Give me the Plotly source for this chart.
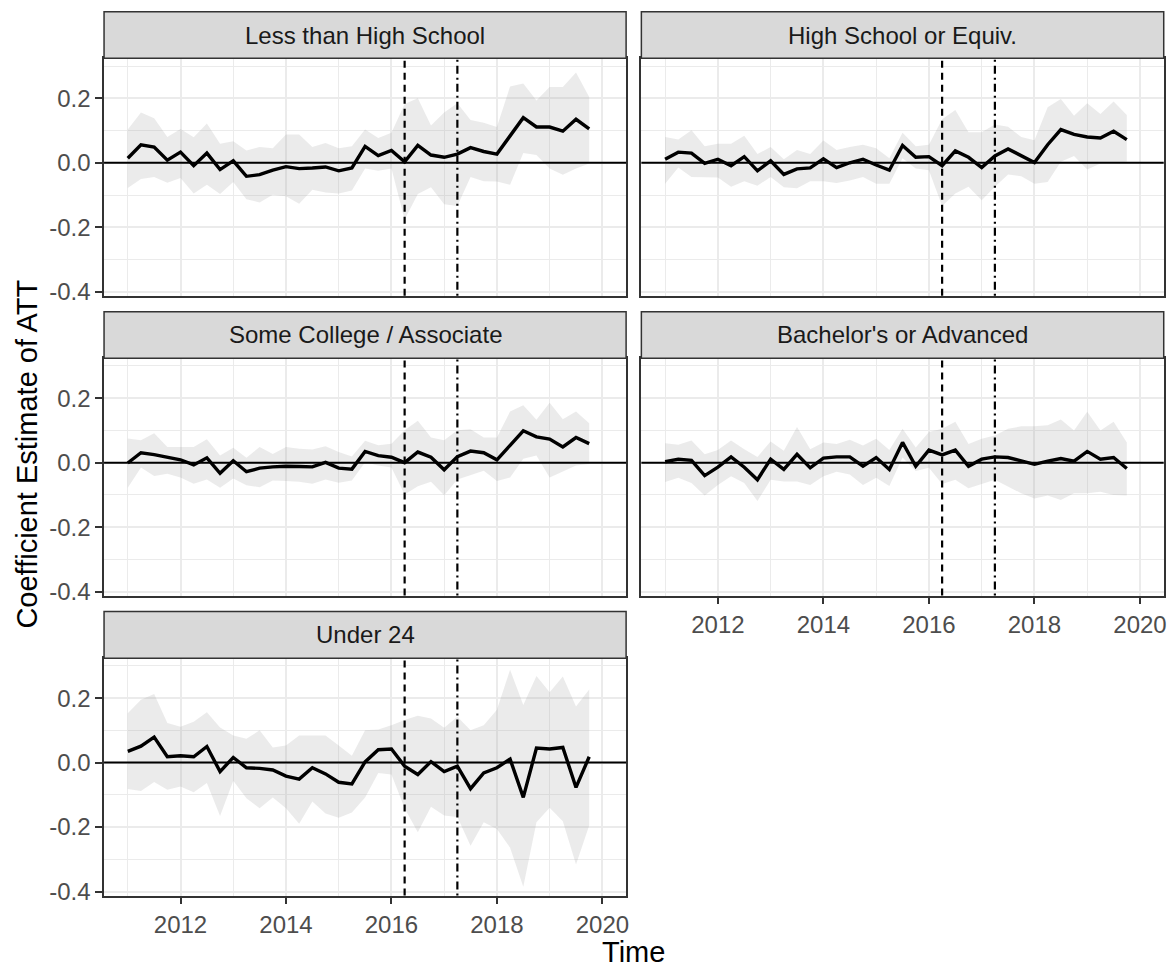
import plotly.graph_objects as go

# ---------------- data ----------------
time = [2011.0, 2011.25, 2011.5, 2011.75, 2012.0, 2012.25, 2012.5, 2012.75,
        2013.0, 2013.25, 2013.5, 2013.75, 2014.0, 2014.25, 2014.5, 2014.75,
        2015.0, 2015.25, 2015.5, 2015.75, 2016.0, 2016.25, 2016.5, 2016.75,
        2017.0, 2017.25, 2017.5, 2017.75, 2018.0, 2018.25, 2018.5, 2018.75,
        2019.0, 2019.25, 2019.5, 2019.75]

panel_names = ["Less than High School", "High School or Equiv.",
               "Some College / Associate", "Bachelor's or Advanced", "Under 24"]

est_lths = [0.014, 0.056, 0.049, 0.008, 0.033, -0.009, 0.030, -0.021, 0.006, -0.042, -0.037, -0.023,
            -0.012, -0.018, -0.016, -0.013, -0.025, -0.016, 0.051, 0.022, 0.038, 0.003, 0.054, 0.024,
            0.017, 0.027, 0.047, 0.035, 0.027, 0.082, 0.140, 0.111, 0.111, 0.098, 0.135, 0.105]
hi_lths = [0.103, 0.156, 0.138, 0.080, 0.105, 0.079, 0.122, 0.059, 0.067, 0.038, 0.049, 0.045,
           0.088, 0.088, 0.049, 0.061, 0.045, 0.051, 0.103, 0.077, 0.093, 0.182, 0.200, 0.116,
           0.156, 0.185, 0.133, 0.124, 0.111, 0.237, 0.246, 0.193, 0.235, 0.235, 0.280, 0.204]
lo_lths = [-0.078, -0.050, -0.044, -0.062, -0.047, -0.095, -0.068, -0.097, -0.060, -0.113, -0.123, -0.099,
           -0.104, -0.127, -0.084, -0.092, -0.095, -0.086, -0.018, -0.025, -0.018, -0.176, -0.097, -0.076,
           -0.129, -0.134, -0.044, -0.057, -0.058, -0.068, 0.030, 0.024, -0.018, -0.037, -0.018, -0.002]

est_hs = [0.011, 0.033, 0.030, -0.002, 0.011, -0.009, 0.019, -0.025, 0.006, -0.036, -0.019, -0.016,
          0.012, -0.015, 0.000, 0.011, -0.007, -0.023, 0.054, 0.017, 0.019, -0.009, 0.037, 0.017,
          -0.015, 0.021, 0.043, 0.021, 0.001, 0.056, 0.103, 0.088, 0.080, 0.077, 0.098, 0.072]
hi_hs = [0.080, 0.072, 0.101, 0.051, 0.059, 0.059, 0.084, 0.027, 0.049, 0.011, 0.040, 0.027,
         0.069, 0.040, 0.049, 0.056, 0.045, 0.014, 0.093, 0.051, 0.056, 0.135, 0.164, 0.095,
         0.095, 0.119, 0.112, 0.080, 0.070, 0.172, 0.198, 0.146, 0.185, 0.151, 0.190, 0.148]
lo_hs = [-0.065, -0.015, -0.044, -0.046, -0.046, -0.074, -0.057, -0.071, -0.044, -0.076, -0.079, -0.057,
         -0.057, -0.063, -0.055, -0.044, -0.065, -0.065, 0.014, -0.018, -0.023, -0.134, -0.095, -0.074,
         -0.116, -0.074, -0.036, -0.042, -0.065, -0.060, 0.003, 0.021, -0.021, -0.002, 0.000, 0.003]

est_sc = [-0.001, 0.031, 0.025, 0.017, 0.009, -0.007, 0.015, -0.033, 0.006, -0.028, -0.017, -0.013,
          -0.011, -0.012, -0.013, 0.001, -0.017, -0.020, 0.035, 0.022, 0.017, 0.000, 0.033, 0.017,
          -0.022, 0.019, 0.036, 0.031, 0.009, 0.054, 0.099, 0.080, 0.073, 0.049, 0.078, 0.059]
hi_sc = [0.075, 0.070, 0.091, 0.049, 0.049, 0.049, 0.073, 0.022, 0.046, 0.015, 0.049, 0.027,
         0.049, 0.043, 0.041, 0.051, 0.033, 0.019, 0.068, 0.054, 0.059, 0.101, 0.130, 0.078,
         0.070, 0.101, 0.104, 0.078, 0.078, 0.159, 0.178, 0.133, 0.186, 0.135, 0.159, 0.122]
lo_sc = [-0.078, -0.015, -0.041, -0.034, -0.046, -0.065, -0.052, -0.078, -0.049, -0.070, -0.076, -0.055,
         -0.057, -0.059, -0.065, -0.052, -0.062, -0.055, 0.001, -0.009, -0.015, -0.099, -0.073, -0.059,
         -0.101, -0.052, -0.038, -0.025, -0.057, -0.046, 0.012, 0.022, -0.046, -0.027, -0.009, -0.004]

est_ba = [0.003, 0.011, 0.007, -0.040, -0.014, 0.018, -0.014, -0.053, 0.011, -0.021, 0.026, -0.016,
          0.014, 0.018, 0.018, -0.011, 0.016, -0.021, 0.063, -0.011, 0.039, 0.024, 0.039, -0.011,
          0.011, 0.018, 0.016, 0.005, -0.005, 0.005, 0.013, 0.005, 0.035, 0.011, 0.016, -0.018]
hi_ba = [0.060, 0.056, 0.069, 0.026, 0.039, 0.069, 0.042, 0.018, 0.066, 0.037, 0.111, 0.042,
         0.063, 0.058, 0.071, 0.053, 0.074, 0.039, 0.105, 0.047, 0.095, 0.105, 0.127, 0.058,
         0.074, 0.084, 0.105, 0.113, 0.113, 0.116, 0.134, 0.100, 0.158, 0.100, 0.127, 0.063]
lo_ba = [-0.060, -0.047, -0.063, -0.102, -0.069, -0.042, -0.063, -0.119, -0.053, -0.058, -0.058, -0.069,
         -0.042, -0.028, -0.037, -0.069, -0.047, -0.072, 0.016, -0.026, -0.016, -0.066, -0.053, -0.079,
         -0.066, -0.053, -0.074, -0.095, -0.111, -0.102, -0.116, -0.095, -0.095, -0.090, -0.100, -0.102]

est_u24 = [0.035, 0.051, 0.079, 0.018, 0.021, 0.018, 0.050, -0.028, 0.016, -0.016, -0.018, -0.023,
           -0.042, -0.051, -0.016, -0.035, -0.061, -0.066, 0.002, 0.040, 0.042, -0.011, -0.037, 0.003,
           -0.028, -0.011, -0.081, -0.032, -0.016, 0.011, -0.108, 0.045, 0.042, 0.047, -0.077, 0.018]
hi_u24 = [0.153, 0.195, 0.213, 0.123, 0.111, 0.127, 0.156, 0.109, 0.084, 0.074, 0.100, 0.047,
          0.053, 0.084, 0.084, 0.084, 0.053, 0.021, 0.100, 0.103, 0.116, 0.132, 0.145, 0.137,
          0.108, 0.142, 0.100, 0.116, 0.164, 0.288, 0.179, 0.269, 0.218, 0.267, 0.174, 0.227]
lo_u24 = [-0.082, -0.088, -0.060, -0.084, -0.074, -0.092, -0.063, -0.166, -0.056, -0.111, -0.142, -0.108,
          -0.142, -0.190, -0.121, -0.158, -0.171, -0.155, -0.108, -0.032, -0.037, -0.142, -0.216, -0.137,
          -0.164, -0.169, -0.258, -0.185, -0.206, -0.264, -0.385, -0.185, -0.140, -0.182, -0.316, -0.195]

estimates = [est_lths, est_hs, est_sc, est_ba, est_u24]
uppers = [hi_lths, hi_hs, hi_sc, hi_ba, hi_u24]
lowers = [lo_lths, lo_hs, lo_sc, lo_ba, lo_u24]

policy_dates = [2016.25, 2017.25]
policy_dash = ["7px,5px", "2px,4px,8px,4px"]

x_ticks = [2012, 2014, 2016, 2018, 2020]
x_ticklabels = ["2012", "2014", "2016", "2018", "2020"]
y_ticks = [-0.4, -0.2, 0.0, 0.2]
y_ticklabels = ["-0.4", "-0.2", "0.0", "0.2"]

# ---------------- layout geometry (screen pixels) ----------------
OFF = 8                 # default page body margin
SY = 0.991              # observed vertical scale of the photographed page
W, H = 1176 - OFF, 968
cols = [(104.3, 627.7), (643.0, 1166.7)]
rows = [(11.7, 58.3, 295.7), (311.7, 358.3, 595.7), (611.7, 658.3, 895.7)]
x_range = [2010.55, 2020.45]
y_range = [-0.4124, 0.324]

FONT = "Liberation Sans, Arial, sans-serif"
GRID = "#EBEBEB"
DARK = "#333333"
TICK_SIZE = 24

def px(x):
    return (x - OFF) / W

def py(y):
    return 1 - (y / SY - OFF) / H

fig = go.Figure()
layout = dict(
    width=W, height=H, margin=dict(l=0, r=0, t=0, b=0),
    paper_bgcolor="white", plot_bgcolor="white", showlegend=False,
    font=dict(family=FONT),
)
shapes = []
annotations = []

positions = [(0, 0), (0, 1), (1, 0), (1, 1), (2, 0)]
for i, name in enumerate(panel_names):
    n = i + 1
    r, c = positions[i]
    x0, x1 = cols[c]
    st, pt, pb = rows[r]
    xa = "x" if n == 1 else f"x{n}"
    ya = "y" if n == 1 else f"y{n}"
    show_x = (i in (3, 4))
    show_y = (c == 0)

    layout["xaxis" if n == 1 else f"xaxis{n}"] = dict(
        domain=[px(x0), px(x1)], anchor=ya, range=x_range,
        tickvals=x_ticks, ticktext=x_ticklabels,
        showticklabels=show_x, ticks="outside" if show_x else "",
        ticklen=7, tickwidth=1.5, tickcolor=DARK,
        tickfont=dict(size=TICK_SIZE, color="#4D4D4D", family=FONT),
        showgrid=True, gridcolor=GRID, gridwidth=1.5,
        minor=dict(dtick=1, tick0=2011, showgrid=True, gridcolor=GRID, gridwidth=0.8),
        showline=True, mirror=True, linecolor=DARK, linewidth=1.5,
        zeroline=False, fixedrange=True,
    )
    layout["yaxis" if n == 1 else f"yaxis{n}"] = dict(
        domain=[py(pb), py(pt)], anchor=xa, range=y_range,
        tickvals=y_ticks, ticktext=y_ticklabels,
        showticklabels=show_y, ticks="outside" if show_y else "",
        ticklen=7, tickwidth=1.5, tickcolor=DARK,
        tickfont=dict(size=TICK_SIZE, color="#4D4D4D", family=FONT),
        showgrid=True, gridcolor=GRID, gridwidth=1.5,
        minor=dict(dtick=0.1, tick0=0, showgrid=True, gridcolor=GRID, gridwidth=0.8),
        showline=True, mirror=True, linecolor=DARK, linewidth=1.5,
        zeroline=False, fixedrange=True,
    )

    # ribbon
    fig.add_trace(go.Scatter(
        x=time + time[::-1], y=uppers[i] + lowers[i][::-1],
        fill="toself", fillcolor="rgba(153,153,153,0.2)",
        line=dict(width=0), mode="lines", hoverinfo="skip",
        xaxis=xa, yaxis=ya))
    # estimate line
    fig.add_trace(go.Scatter(
        x=time, y=estimates[i], mode="lines",
        line=dict(color="black", width=3.4),
        xaxis=xa, yaxis=ya))

    # zero line
    shapes.append(dict(type="line", xref=f"{xa} domain", yref=ya,
                       x0=0, x1=1, y0=0, y1=0,
                       line=dict(color="black", width=2)))
    # policy lines
    for d, dash in zip(policy_dates, policy_dash):
        shapes.append(dict(type="line", xref=xa, yref=f"{ya} domain",
                           x0=d, x1=d, y0=0, y1=1,
                           line=dict(color="black", width=2.2, dash=dash)))
    # strip
    shapes.append(dict(type="rect", xref="paper", yref="paper",
                       x0=px(x0), x1=px(x1), y0=py(pt), y1=py(st),
                       fillcolor="#D9D9D9", line=dict(color=DARK, width=1.5),
                       layer="above"))
    annotations.append(dict(text=name, xref="paper", yref="paper",
                            x=px((x0 + x1) / 2), y=py((st + pt) / 2),
                            xanchor="center", yanchor="middle", showarrow=False,
                            font=dict(size=TICK_SIZE, color="#1A1A1A", family=FONT)))

annotations.append(dict(text="Time", xref="paper", yref="paper",
                        x=px((cols[0][0] + cols[1][1]) / 2), y=py(952),
                        xanchor="center", yanchor="middle", showarrow=False,
                        font=dict(size=29, color="black", family=FONT)))
annotations.append(dict(text="Coefficient Estimate of ATT", xref="paper", yref="paper",
                        x=px(27), y=py((rows[0][0] + rows[2][2]) / 2), textangle=-90,
                        xanchor="center", yanchor="middle", showarrow=False,
                        font=dict(size=29, color="black", family=FONT)))

layout["shapes"] = shapes
layout["annotations"] = annotations
fig.update_layout(**layout)
fig.write_html("out.html")
